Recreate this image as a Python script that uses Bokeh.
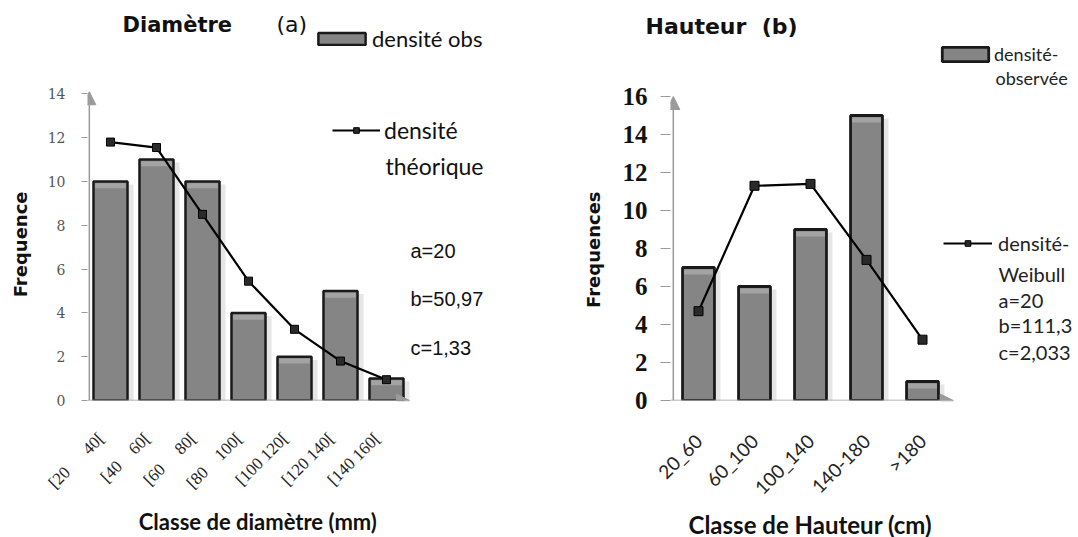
import math
from bokeh.plotting import figure
from bokeh.models import (Range1d, FixedTicker, Label, Arrow, NormalHead, Legend,
                          LegendItem, Title)
from bokeh.layouts import row
from bokeh.embed import file_html
from bokeh.resources import INLINE

NB = "\u00a0"

# ---------------- data ----------------
diam_classes = ["[20" + NB * 6 + "40[", "[40" + NB * 4 + "60[", "[60" + NB * 5 + "80[",
                "[80" + NB * 4 + "100[", "[100" + NB * 1 + "120[", "[120" + NB * 1 + "140[",
                "[140" + NB * 1 + "160["]
diam_obs = [10, 11, 10, 4, 2, 5, 1]
diam_theo = [11.8, 11.55, 8.5, 5.45, 3.25, 1.8, 0.95]
diam_yticks = [0, 2, 4, 6, 8, 10, 12, 14]

haut_classes = ["20_60", "60_100", "100_140", "140-180", ">180"]
haut_obs = [7, 6, 9, 15, 1]
haut_weibull = [4.7, 11.3, 11.4, 7.4, 3.2]
haut_yticks = [0, 2, 4, 6, 8, 10, 12, 14, 16]

BAR_FILL = "#858585"
BAR_HI = "#a3a3a3"
BAR_SHADOW = "#e6e6e6"
BAR_LINE = "#1a1a1a"
AXIS_GRAY = "#9a9a9a"

diam_pos = list(range(1, len(diam_classes) + 1))
haut_pos = list(range(1, len(haut_classes) + 1))


def style_common(p):
    p.outline_line_color = None
    p.xgrid.grid_line_color = None
    p.ygrid.grid_line_color = None
    p.background_fill_color = "white"
    p.border_fill_color = "white"
    p.xaxis.axis_line_color = None
    p.yaxis.axis_line_color = None
    p.xaxis.major_tick_line_color = None
    p.xaxis.minor_tick_line_color = None
    p.xaxis.major_tick_out = 0
    p.xaxis.major_tick_in = 0
    p.yaxis.minor_tick_line_color = None
    p.yaxis.major_tick_line_color = AXIS_GRAY
    p.yaxis.major_tick_in = 0
    p.xaxis.major_label_orientation = math.pi / 4
    p.frame_align = False


def add_label(p, x, y, text, font, size, style="normal", color="#111111"):
    p.add_layout(Label(x=x, y=y, text=text, text_font=font, text_font_size=size,
                       text_font_style=style, text_color=color,
                       text_align="left", text_baseline="middle"))


def make_legend(item, loc, gw, gh, standoff, font, size, color):
    return Legend(items=[item], location=loc, orientation="vertical",
                  glyph_width=gw, glyph_height=gh, label_standoff=standoff,
                  label_text_font=font, label_text_font_size=size,
                  label_text_color=color, padding=0, margin=0, spacing=0,
                  border_line_color=None, background_fill_alpha=0)


def bars_with_highlight(p, x, top, width, line_width, ux, uy):
    # soft shadow to the right of each bar
    p.vbar(x=[v + 6.0 / ux for v in x], top=[t - 3.0 / uy for t in top], width=width,
           fill_color=BAR_SHADOW, line_color=None)
    r = p.vbar(x=x, top=top, width=width, fill_color=BAR_FILL,
               line_color=BAR_LINE, line_width=line_width)
    off = (line_width / 2 + 0.5) / uy
    band = 5.0 / uy
    p.vbar(x=x, top=[t - off for t in top], bottom=[t - off - band for t in top],
           width=width * 0.9, fill_color=BAR_HI, line_color=None)
    return r


# ---------------- left chart : Diamètre ----------------
L_PX = 46.0      # pixels per category
L_PY = 21.9      # pixels per unit
p1 = figure(x_range=Range1d(0.5, 0.5 + 469 / L_PX),
            y_range=Range1d(0, 400 / L_PY),
            frame_width=469, frame_height=400,
            min_border=0, min_border_left=87, min_border_bottom=137,
            output_backend="svg", toolbar_location=None)
style_common(p1)

bars1 = bars_with_highlight(p1, diam_pos, diam_obs, 0.74, 2.5, L_PX, L_PY)
line1 = p1.line(x=diam_pos, y=diam_theo, line_color="black", line_width=2.2)
pts1 = p1.scatter(x=diam_pos, y=diam_theo, marker="square", size=8,
                  fill_color="#2a2a2a", line_color="black", line_width=1)

p1.yaxis.ticker = FixedTicker(ticks=diam_yticks)
p1.yaxis.major_tick_out = 6
p1.yaxis.major_label_standoff = 16
p1.yaxis.major_label_text_font = "DejaVu Serif"
p1.yaxis.major_label_text_font_size = "14px"
p1.yaxis.major_label_text_color = "#555555"
p1.yaxis.axis_label = "Frequence" + NB * 14
p1.yaxis.axis_label_text_font = "DejaVu Sans"
p1.yaxis.axis_label_text_font_style = "bold"
p1.yaxis.axis_label_text_font_size = "18px"
p1.yaxis.axis_label_text_color = "#111111"
p1.yaxis.axis_label_standoff = 14

p1.xaxis.ticker = FixedTicker(ticks=diam_pos)
p1.xaxis.major_label_overrides = {pos: lab + NB * 3 for pos, lab in zip(diam_pos, diam_classes)}
p1.xaxis.major_label_standoff = 26
p1.xaxis.major_label_text_font = "Liberation Serif"
p1.xaxis.major_label_text_font_size = "17px"
p1.xaxis.major_label_text_color = "#222222"
p1.xaxis.axis_label = "Classe de diamètre (mm)" + NB * 24
p1.xaxis.axis_label_text_font = "Lato"
p1.xaxis.axis_label_text_font_style = "bold"
p1.xaxis.axis_label_text_font_size = "22px"
p1.xaxis.axis_label_text_color = "#111111"
p1.xaxis.axis_label_standoff = 6

p1.add_layout(Arrow(end=NormalHead(size=13, fill_color=AXIS_GRAY, line_color=AXIS_GRAY),
                    x_start=0.54, y_start=0, x_end=0.54, y_end=14.1,
                    line_color=AXIS_GRAY, line_width=1.5))
p1.add_layout(Arrow(end=NormalHead(size=13, fill_color=AXIS_GRAY, line_color=AXIS_GRAY),
                    x_start=0.5, y_start=0, x_end=7.5, y_end=0,
                    line_color=AXIS_GRAY, line_width=1.5))


def lx(px):
    return 0.5 + (px - 87) / L_PX


def ly(py):
    return (400 - py) / L_PY


p1.add_layout(make_legend(LegendItem(label="densité obs", renderers=[bars1]),
                          (225, 348), 59, 15, 1, "Lato", "22px", "#111111"), "center")
p1.add_layout(make_legend(LegendItem(label="densité", renderers=[line1, pts1]),
                          (245, 256), 48, 14, 4, "Lato", "23px", "#111111"), "center")

add_label(p1, lx(385), ly(165), "théorique", "Lato", "23px")
add_label(p1, lx(410), ly(250), "a=20", "Liberation Sans", "20px")
add_label(p1, lx(410), ly(298), "b=50,97", "Liberation Sans", "20px")
add_label(p1, lx(410), ly(347), "c=1,33", "Liberation Sans", "20px")
add_label(p1, lx(122), ly(24), "Diamètre", "DejaVu Sans", "21px", style="bold")
add_label(p1, lx(276), ly(24), "(a)", "DejaVu Sans", "22px")

# ---------------- right chart : Hauteur ----------------
R_PX = 56.0
R_PY = 19.0
p2 = figure(x_range=Range1d(0.5, 0.5 + 408 / R_PX),
            y_range=Range1d(0, 358 / R_PY),
            frame_width=408, frame_height=358,
            min_border=0, min_border_left=114, min_border_top=42,
            min_border_bottom=137,
            output_backend="svg", toolbar_location=None)
style_common(p2)
p2.add_layout(Title(text="Hauteur" + NB * 2 + "(b)", align="left", offset=-25,
                    standoff=8, text_font="DejaVu Sans", text_font_size="22px",
                    text_font_style="bold", text_color="#111111"), "above")

bars2 = bars_with_highlight(p2, haut_pos, haut_obs, 0.57, 2.8, R_PX, R_PY)
line2 = p2.line(x=haut_pos, y=haut_weibull, line_color="black", line_width=2.2)
pts2 = p2.scatter(x=haut_pos, y=haut_weibull, marker="square", size=9,
                  fill_color="#2a2a2a", line_color="black", line_width=1)

p2.yaxis.ticker = FixedTicker(ticks=haut_yticks)
p2.yaxis.major_tick_out = 10
p2.yaxis.major_label_standoff = 13
p2.yaxis.major_label_text_font = "Liberation Serif"
p2.yaxis.major_label_text_font_style = "bold"
p2.yaxis.major_label_text_font_size = "25px"
p2.yaxis.major_label_text_color = "#111111"
p2.yaxis.axis_label = "Frequences" + NB * 9
p2.yaxis.axis_label_text_font = "DejaVu Sans"
p2.yaxis.axis_label_text_font_style = "bold"
p2.yaxis.axis_label_text_font_size = "18px"
p2.yaxis.axis_label_text_color = "#111111"
p2.yaxis.axis_label_standoff = 16

p2.xaxis.ticker = FixedTicker(ticks=haut_pos)
p2.xaxis.major_label_overrides = {pos: lab for pos, lab in zip(haut_pos, haut_classes)}
p2.xaxis.major_label_standoff = 37
p2.xaxis.major_label_text_font = "Lato"
p2.xaxis.major_label_text_font_size = "19px"
p2.xaxis.major_label_text_color = "#222222"
p2.xaxis.axis_label = "Classe de Hauteur (cm)" + NB * 22
p2.xaxis.axis_label_text_font = "Lato"
p2.xaxis.axis_label_text_font_style = "bold"
p2.xaxis.axis_label_text_font_size = "24px"
p2.xaxis.axis_label_text_color = "#111111"
p2.xaxis.axis_label_standoff = 0

p2.add_layout(Arrow(end=NormalHead(size=13, fill_color=AXIS_GRAY, line_color=AXIS_GRAY),
                    x_start=0.55, y_start=0, x_end=0.55, y_end=16.0,
                    line_color=AXIS_GRAY, line_width=1.5))
p2.add_layout(Arrow(end=NormalHead(size=13, fill_color=AXIS_GRAY, line_color=AXIS_GRAY),
                    x_start=0.5, y_start=0, x_end=5.55, y_end=0,
                    line_color=AXIS_GRAY, line_width=1.5))


def rx(px):
    return 0.5 + (px - 670) / R_PX


def ry(py):
    return (400 - py) / R_PY


p2.add_layout(make_legend(LegendItem(label="densité-", renderers=[bars2]),
                          (266, 335), 58, 18, 0, "Lato", "18px", "#222222"), "center")
p2.add_layout(make_legend(LegendItem(label="densité-", renderers=[line2, pts2]),
                          (273, 145), 49, 14, 6, "Lato", "20px", "#222222"), "center")

add_label(p2, rx(995), ry(77), "observée", "Lato", "18px", color="#222222")
add_label(p2, rx(998), ry(273), "Weibull", "Lato", "20px", color="#222222")
add_label(p2, rx(998), ry(299), "a=20", "Lato", "20px", color="#222222")
add_label(p2, rx(998), ry(324), "b=111,3", "Lato", "20px", color="#222222")
add_label(p2, rx(998), ry(351), "c=2,033", "Lato", "20px", color="#222222")

layout = row(p1, p2)
open("out.html", "w").write(file_html(layout, INLINE))
